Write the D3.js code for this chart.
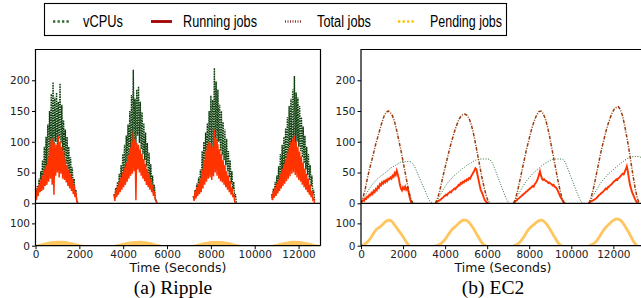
<!DOCTYPE html>
<html><head><meta charset="utf-8">
<script src="https://cdn.jsdelivr.net/npm/d3@7"></script>
<style>body{margin:0;background:#fff}svg{display:block}</style>
</head><body><svg id="c" width="641" height="298"></svg>
<script>
// ---------------- DATA ----------------
const legendLabels = ["vCPUs", "Running jobs", "Total jobs", "Pending jobs"];
const xTicks = [0, 2000, 4000, 6000, 8000, 10000, 12000];
const yTicksUpper = [0, 50, 100, 150, 200];
const yTicksLower = [0, 100];
const panelCaptions = ["(a) Ripple", "(b) EC2"];
const xAxisTitle = "Time (Seconds)";

// Ripple: cycle start times (s), sampled every 40 s
const rippleStarts = [0, 3580, 7200, 10770];
const rippleStep = 40;
const rippleVcpu = [
  [22,8,28,12,40,18,52,25,70,35, 92,45,108,55,128,70,150,80,178,96, 197,90,172,100,180,95,165,105,195,98, 160,85,135,72,120,64,108,55,92,46, 75,36,58,26,40,15,22,5,0,0],
  [15,8,25,12,35,18,48,22,62,30, 80,38,95,45,110,52,128,60,150,72, 176,85,217,100,170,95,185,110,190,98, 165,88,148,80,130,70,115,60,98,48, 82,38,64,28,45,16,30,10,5,0],
  [12,5,22,10,32,15,42,20,55,26, 85,38,100,45,115,55,130,60,150,70, 175,82,168,90,220,105,198,95,185,100, 160,85,150,78,132,70,120,62,105,52, 85,42,70,32,52,22,35,10,15,0],
  [15,6,24,10,35,14,45,18,60,25, 80,32,95,40,108,48,122,55,140,62, 158,70,170,78,185,88,207,95,180,100, 172,92,158,85,140,75,125,65,110,55, 92,46,80,38,62,28,45,15,22,5]
];
const rippleRunning = [
  [18,5,25,12,30,18,38,20,45,22, 55,28,62,30,75,35,90,40,104,30, 106,14,98,45,95,50,110,42,100,48, 92,40,85,38,72,34,62,28,55,24, 48,20,40,15,30,10,18,4,0,0],
  [15,4,22,10,28,14,35,18,42,22, 50,26,58,30,66,35,78,40,90,45, 100,48,117,52,104,5,98,55,95,50, 88,45,80,40,72,36,64,30,56,26, 48,22,40,18,30,12,20,6,3,0],
  [12,4,20,8,26,12,32,15,40,18, 55,24,70,30,85,35,95,40,100,42, 98,38,92,44,120,50,105,45,96,40, 88,36,80,34,70,30,62,26,52,22, 45,18,36,14,26,10,15,4,0,0],
  [14,5,20,9,26,12,32,16,38,20, 48,24,56,28,64,32,72,36,82,40, 90,44,100,48,105,50,110,46,100,42, 92,38,84,35,76,30,66,26,56,22, 48,18,40,14,30,10,20,6,8,0]
];
const ripplePendingStep = 200;
const ripplePending = [
  [1,6,11,15,18,20,20,18,14,10,5,1],
  [1,5,10,14,17,19,20,18,15,10,5,1],
  [1,6,11,15,18,19,19,17,14,9,4,1],
  [1,5,10,14,18,20,19,17,13,9,4,1]
];

// EC2: cycle start times (s)
const ec2Starts = [0, 3540, 7260, 10840];
const ec2Step = 100;          // total, vCPUs, pending
const ec2RunStep = 50;        // running jobs
const ec2Total = [
  [0,10,23,40,55,68,82,96,108,120,132,142,148,150,147,142,132,118,102,86,68,50,32,16,4,0],
  [0,8,20,35,50,64,78,92,104,116,126,135,141,144,145,143,138,128,115,98,80,62,44,28,14,4,0],
  [0,9,22,38,54,70,86,100,114,126,136,144,149,150,146,138,126,110,92,74,56,38,22,8,0],
  [0,9,22,38,55,72,88,102,116,128,138,147,153,156,157,152,142,126,108,88,66,44,24,8,0]
];
const ec2Vcpu = [
  [0,6,12,18,24,29,33,37,40,43,46,48,51,54,57,59,61,63,65,67,68,68,68,68,67,63,56,48,40,32,24,16,8,2,0],
  [0,6,12,18,24,29,34,38,42,45,48,51,54,57,59,62,64,66,68,70,71,72,72,72,72,72,71,66,58,49,40,31,22,13,5,0],
  [0,6,13,19,25,31,36,40,44,48,51,54,57,60,63,65,67,69,71,72,72,72,72,72,70,63,54,45,36,27,18,10,3,0],
  [0,6,12,18,24,30,35,39,43,47,50,53,56,59,62,65,67,70,72,74,75,76,76,76,76,74,68,60,52,44,36]
];
const ec2Running = [
  [0,3,5,4,8,7,11,10,14,13, 17,15,20,18,23,21,27,25,31,29, 34,32,36,34,38,36,40,39,42,40, 45,43,49,46,53,47,40,30,24,21, 26,23,27,22,25,20,12,5,0,0],
  [0,2,3,4,5,6,8,9,11,12, 14,13,16,17,19,18,21,22,24,23, 26,27,30,29,33,32,35,34,37,36, 39,38,41,40,44,47,50,53,57,55, 46,38,30,22,18,14,9,5,3,1,0],
  [0,2,4,5,7,8,10,11,13,14, 16,17,19,20,22,23,25,26,28,27, 31,33,36,40,46,52,45,40,38,39, 37,36,35,33,34,32,31,29,30,27, 26,24,20,16,12,9,6,3,1,0],
  [0,2,3,4,5,6,7,8,10,12, 14,15,17,18,20,22,24,23,26,27, 29,30,32,34,36,37,39,38,41,42, 44,46,48,47,51,55,60,52,40,30, 24,18,14,10,6,3,1,0]
];
const ec2Pending = [
  [0,3,8,16,27,40,56,70,78,84,92,102,110,115,113,106,92,80,66,54,40,25,10,0],
  [0,2,6,12,22,34,48,62,74,82,90,100,108,114,115,112,104,92,78,62,46,30,14,4,0],
  [0,3,8,16,28,42,58,72,82,90,98,106,112,115,112,104,92,78,62,46,30,14,4,0],
  [0,3,8,15,26,40,56,70,82,92,100,110,116,120,119,114,104,90,74,58,40,22,8,0]
];

// ---------------- DRAWING ----------------
const svg = d3.select("#c");
const C = {
  vcpuDark: "#0d3f0d", vcpuEc2: "#2f6e38", run: "#ff3300", total: "#9a3c0c", pend: "#ffc55e",
  legVcpu: "#2f6b2f", legRun: "#a30000", legTotal: "#8a3c3c", legPend: "#ffc000"
};
const tickFont = "'DejaVu Sans', sans-serif";
const yTopU = 49.5, yZero = 203.3, yBotL = 245.7;

const panels = [
  {x0: 35.5, x1: 320.5, xmax: 13000, cap: 0, capX: 173, titleX: 178},
  {x0: 361, x1: 647, xmax: 13600, cap: 1, capX: 493, titleX: 503}
];

function series(starts, arr, step) {
  return arr.map((vals, c) => vals.map((v, i) => ({t: starts[c] + i * step, v})));
}

const defs = svg.append("defs");

panels.forEach((p, pi) => {
  const x = d3.scaleLinear().domain([0, p.xmax]).range([p.x0, p.x1]);
  const yU = d3.scaleLinear().domain([0, 250]).range([yZero, yTopU]);
  const yL = d3.scaleLinear().domain([0, 190]).range([yBotL, yZero]);

  defs.append("clipPath").attr("id", "cu" + pi).append("rect")
    .attr("x", p.x0).attr("y", yTopU).attr("width", p.x1 - p.x0).attr("height", yZero - yTopU);
  defs.append("clipPath").attr("id", "cl" + pi).append("rect")
    .attr("x", p.x0).attr("y", yZero).attr("width", p.x1 - p.x0).attr("height", yBotL - yZero);

  const gU = svg.append("g").attr("clip-path", `url(#cu${pi})`);
  const gL = svg.append("g").attr("clip-path", `url(#cl${pi})`);
  const lineU = d3.line().x(d => x(d.t)).y(d => yU(d.v));
  const lineL = d3.line().x(d => x(d.t)).y(d => yL(d.v));

  if (pi === 0) {
    series(rippleStarts, rippleVcpu, rippleStep).forEach(s =>
      gU.append("path").attr("d", lineU(s)).attr("fill", "none")
        .attr("stroke", C.vcpuDark).attr("stroke-width", 1.4).attr("stroke-dasharray", "1.6 0.9"));
    series(rippleStarts, rippleRunning, rippleStep).forEach(s =>
      gU.append("path").attr("d", lineU(s)).attr("fill", "none")
        .attr("stroke", C.run).attr("stroke-width", 1.5));
    const area = d3.area().x(d => x(d.t)).y0(yL(0)).y1(d => yL(d.v)).curve(d3.curveMonotoneX);
    series(rippleStarts, ripplePending, ripplePendingStep).forEach(s =>
      gL.append("path").attr("d", area(s)).attr("fill", C.pend).attr("stroke", C.pend).attr("stroke-width", 1));
  } else {
    series(ec2Starts, ec2Vcpu, ec2Step).forEach(s =>
      gU.append("path").attr("d", lineU(s)).attr("fill", "none")
        .attr("stroke", C.vcpuEc2).attr("stroke-width", 1).attr("stroke-dasharray", "1 1.6"));
    series(ec2Starts, ec2Running, ec2RunStep).forEach(s =>
      gU.append("path").attr("d", lineU(s)).attr("fill", "none")
        .attr("stroke", C.run).attr("stroke-width", 1.9));
    series(ec2Starts, ec2Total, ec2Step).forEach(s =>
      gU.append("path").attr("d", lineU(s)).attr("fill", "none")
        .attr("stroke", C.total).attr("stroke-width", 1.5).attr("stroke-dasharray", "3.5 1.4 1 1.4"));
    series(ec2Starts, ec2Pending, ec2Step).forEach(s =>
      gL.append("path").attr("d", lineL(s)).attr("fill", "none")
        .attr("stroke", C.pend).attr("stroke-width", 2.8).attr("stroke-linejoin", "round"));
  }

  // spines
  const sp = svg.append("g").attr("stroke", "#000").attr("stroke-width", 1.2).attr("fill", "none");
  sp.append("path").attr("d", `M${p.x0},${yBotL}V${yTopU}H${p.x1}V${yBotL}`);
  sp.append("line").attr("x1", p.x0).attr("x2", p.x1).attr("y1", yZero).attr("y2", yZero);
  sp.append("line").attr("x1", p.x0).attr("x2", p.x1).attr("y1", yBotL).attr("y2", yBotL);

  // axes
  const styleAxis = g => {
    g.select(".domain").remove();
    g.selectAll("line").attr("stroke", "#000").attr("stroke-width", 1);
    g.selectAll("text").attr("font-family", tickFont).attr("font-size", "10.5px").attr("fill", "#222");
  };
  svg.append("g").attr("transform", `translate(${p.x0},0)`)
    .call(d3.axisLeft(yU).tickValues(yTicksUpper).tickSize(3.5).tickPadding(2).tickSizeOuter(0)).call(styleAxis);
  svg.append("g").attr("transform", `translate(${p.x0},0)`)
    .call(d3.axisLeft(yL).tickValues(yTicksLower).tickSize(3.5).tickPadding(2).tickSizeOuter(0)).call(styleAxis);
  svg.append("g").attr("transform", `translate(0,${yBotL})`)
    .call(d3.axisBottom(x).tickValues(xTicks).tickFormat(d3.format("d")).tickSize(3.5).tickPadding(1.5).tickSizeOuter(0)).call(styleAxis);

  svg.append("text").attr("x", p.titleX).attr("y", 271.5).attr("text-anchor", "middle")
    .attr("font-family", tickFont).attr("font-size", "12.5px").attr("fill", "#111").text(xAxisTitle);
  svg.append("text").attr("x", p.capX).attr("y", 293.5).attr("text-anchor", "middle")
    .attr("font-family", "'Liberation Serif', 'Times New Roman', serif").attr("font-size", "19.5px")
    .attr("fill", "#000").text(panelCaptions[p.cap]);
});

// legend
const lg = svg.append("g");
lg.append("rect").attr("x", 44.5).attr("y", 3.5).attr("width", 462).attr("height", 32)
  .attr("fill", "#fff").attr("stroke", "#000").attr("stroke-width", 1.1);
const legItems = [
  {c: C.legVcpu, dash: "2.3 2.2", w: 2.6, x1: 53, x2: 70, tx: 83, tl: 40},
  {c: C.legRun, dash: null, w: 2.8, x1: 151, x2: 172, tx: 183, tl: 74},
  {c: C.legTotal, dash: "1 1.5", w: 2.6, x1: 285, x2: 302, tx: 317, tl: 54},
  {c: C.legPend, dash: "2.3 2.2", w: 2.6, x1: 398, x2: 415, tx: 430, tl: 72}
];
legItems.forEach((it, i) => {
  const l = lg.append("line").attr("x1", it.x1).attr("x2", it.x2).attr("y1", 21.5).attr("y2", 21.5)
    .attr("stroke", it.c).attr("stroke-width", it.w);
  if (it.dash) l.attr("stroke-dasharray", it.dash);
  lg.append("text").attr("x", it.tx).attr("y", 27)
    .attr("font-family", "'Liberation Sans Narrow', 'Liberation Sans', Arial, sans-serif")
    .attr("font-size", "16px").attr("fill", "#000")
    .attr("textLength", it.tl).attr("lengthAdjust", "spacingAndGlyphs").text(legendLabels[i]);
});
</script></body></html>
